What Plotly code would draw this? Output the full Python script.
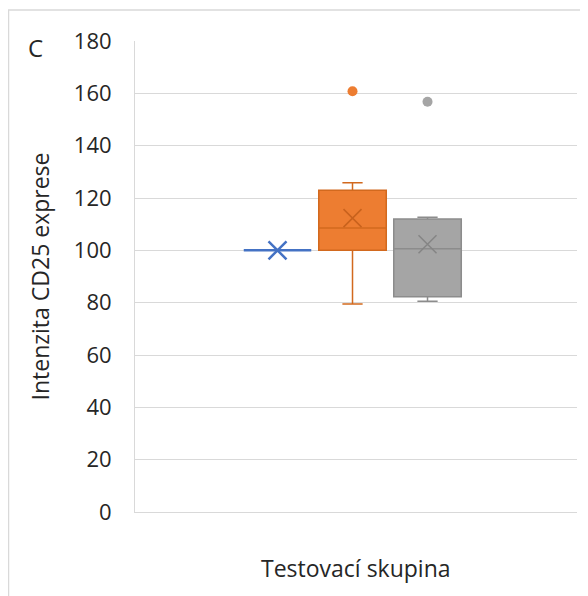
import plotly.graph_objects as go

# ---- data ----
groups = ["Kontrola", "Skupina 1", "Skupina 2"]
positions = [1, 2, 3]
lower_whisker = [100, 79.5, 80.5]
q1_values = [100, 100, 82.3]
median_values = [100, 108.5, 100.6]
q3_values = [100, 123.0, 112.0]
upper_whisker = [100, 125.8, 112.6]
mean_values = [100, 112.3, 102.3]
outlier_values = [[], [160.8], [156.8]]
y_ticks = [0, 20, 40, 60, 80, 100, 120, 140, 160, 180]

fill_colors = ["#4472C4", "#ED7D31", "#A5A5A5"]
line_colors = ["#4472C4", "#D2691E", "#8C8C8C"]
mean_colors = ["#4472C4", "#C8621D", "#858585"]
line_widths = [2.5, 1.5, 1.5]

FONT = "Open Sans, Liberation Sans, sans-serif"
TXT = "#262626"

fig = go.Figure()
for i, g in enumerate(groups):
    fig.add_trace(go.Box(
        x=[positions[i]], name=g,
        q1=[q1_values[i]], median=[median_values[i]], q3=[q3_values[i]],
        lowerfence=[lower_whisker[i]], upperfence=[upper_whisker[i]],
        width=0.9, whiskerwidth=0.3,
        fillcolor=fill_colors[i],
        line=dict(color=line_colors[i], width=line_widths[i]),
        boxpoints=False, showlegend=False,
    ))
    fig.add_trace(go.Scatter(
        x=[positions[i]], y=[mean_values[i]], mode="markers",
        marker=dict(symbol="x-thin-open", size=18, color=mean_colors[i],
                    line=dict(color=mean_colors[i], width=line_widths[i])),
        showlegend=False, hoverinfo="skip",
    ))
    if outlier_values[i]:
        fig.add_trace(go.Scatter(
            x=[positions[i]] * len(outlier_values[i]), y=outlier_values[i],
            mode="markers",
            marker=dict(symbol="circle", size=10, color=fill_colors[i]),
            showlegend=False, hoverinfo="skip",
        ))

fig.update_layout(
    width=580, height=588,
    margin=dict(l=127, r=11, t=33, b=84),
    paper_bgcolor="white", plot_bgcolor="white",
    font=dict(family=FONT, size=22, color=TXT),
    xaxis=dict(range=[-0.9, 4.993], showticklabels=False, showgrid=False,
               zeroline=False, showline=True, linecolor="#D9D9D9", linewidth=1,
               fixedrange=True),
    yaxis=dict(range=[0, 180], tickvals=y_ticks, showgrid=True,
               gridcolor="#D9D9D9", gridwidth=1, zeroline=False,
               showline=True, linecolor="#D9D9D9", linewidth=1,
               tickfont=dict(family=FONT, size=22, color=TXT),
               ticks="", ticklabelstandoff=18),
    shapes=[dict(type="rect", xref="paper", yref="paper",
                 x0=-0.2862, x1=1.2, y0=-0.4, y1=1.0658,
                 line=dict(color="#D9D9D9", width=1.5), layer="below")],
    annotations=[
        dict(text="Intenzita CD25 exprese", xref="paper", yref="paper",
             x=-0.215, y=0.5, textangle=-90, showarrow=False,
             font=dict(family=FONT, size=23, color=TXT),
             xanchor="center", yanchor="middle"),
        dict(text="Testovací skupina", xref="paper", yref="paper",
             x=0.5, y=-0.119, showarrow=False,
             font=dict(family=FONT, size=23, color=TXT),
             xanchor="center", yanchor="middle"),
        dict(text="C", xref="paper", yref="paper",
             x=-0.226, y=0.987, showarrow=False,
             font=dict(family=FONT, size=24, color=TXT),
             xanchor="center", yanchor="middle"),
    ],
)

fig.write_html("out.html")
